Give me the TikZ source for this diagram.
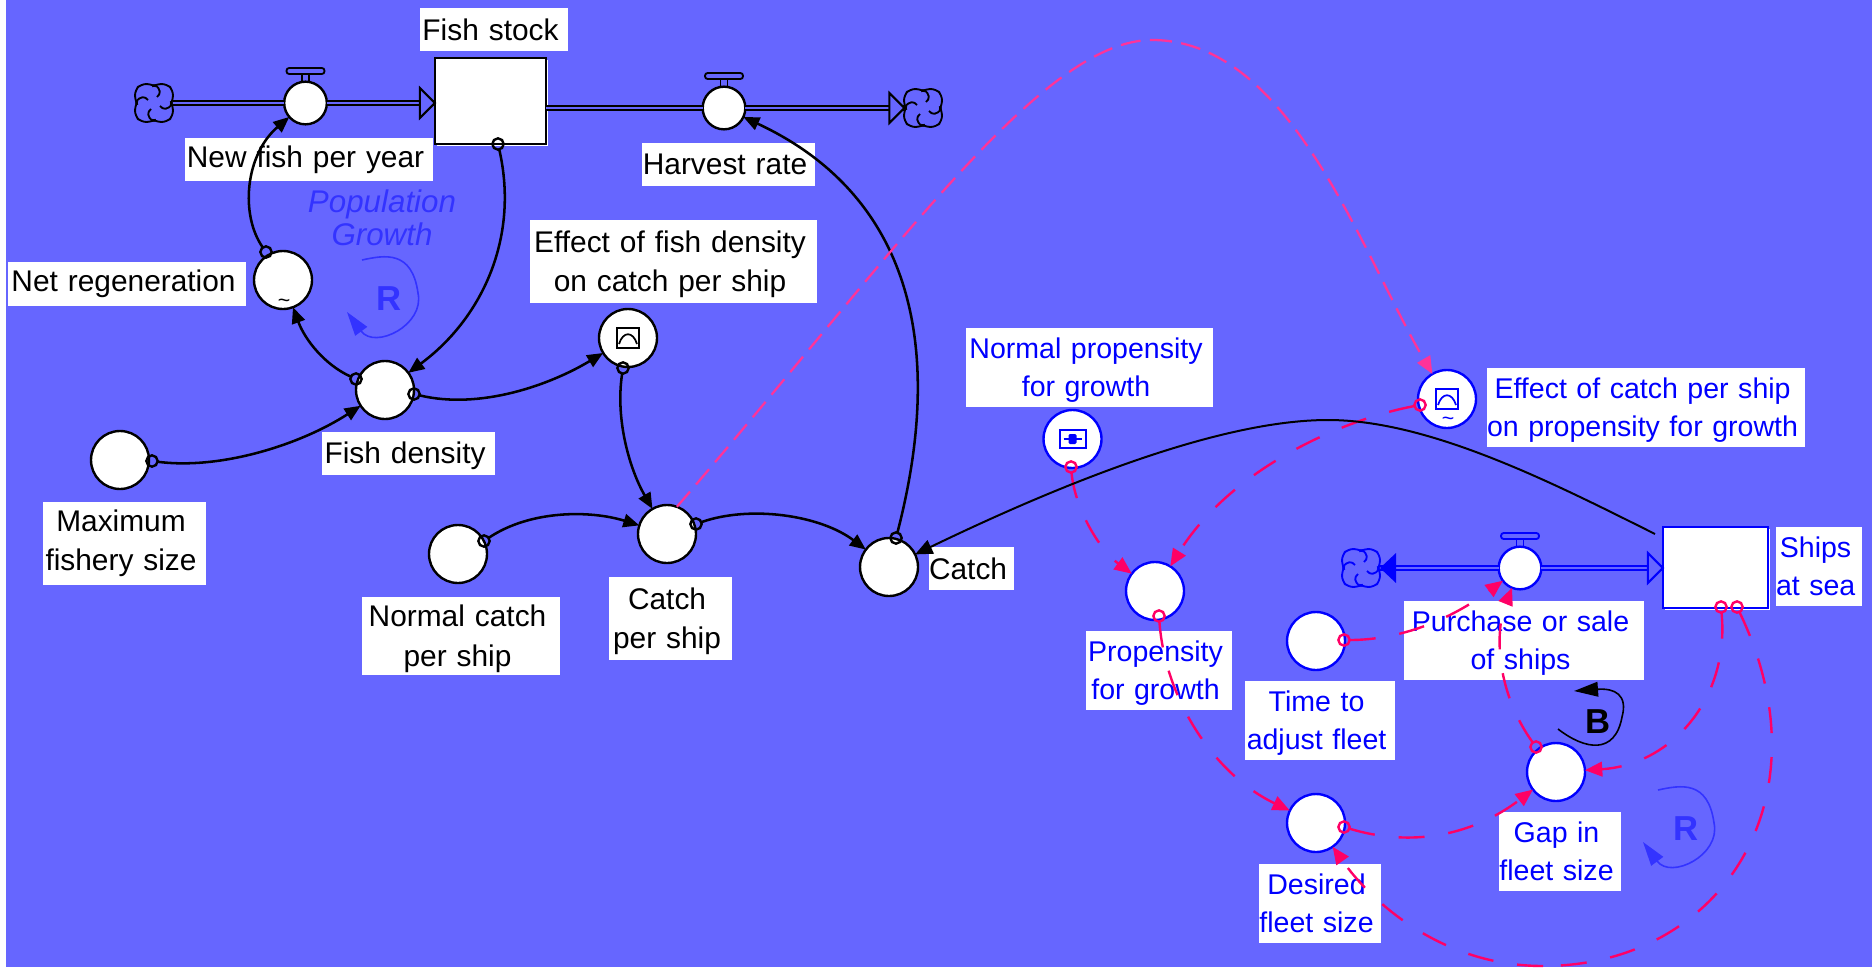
\documentclass[tikz,border=0pt]{standalone}
\usepackage{fontspec}
\setmainfont{Liberation Sans}
\usepackage{tikz}
\usetikzlibrary{arrows.meta}
\definecolor{pagebg}{HTML}{6666FF}
\definecolor{shipblue}{HTML}{0000FF}
\definecolor{loopblue}{HTML}{3333FF}
\definecolor{linkpink}{HTML}{FF0066}
\definecolor{longpink}{HTML}{FF3399}
% Pushes the text of a name box down a little
\newcommand{\topgap}{\rule{0pt}{\dimexpr.73em+4pt\relax}}
\tikzset{
% Node styles for the stock and flow parts
aux node/.style={circle,draw,fill=white,line width=1.8pt,inner sep=0,outer sep=0,minimum size=43.5pt},
valve node/.style={circle,draw,fill=white,line width=1.8pt,inner sep=0,outer sep=0,minimum size=32pt},
stock node/.style={rectangle,draw,fill=white,line width=1.8pt,inner sep=0,outer sep=0},
dot node/.style={circle,draw,line width=1.8pt,inner sep=0,outer sep=0,minimum size=8.5pt},
cloud spot/.style={circle,inner sep=0,outer sep=0,minimum size=28pt},
name box/.style 2 args={fill=white,inner sep=0,text width=#1*.75pt,minimum height=#2*.75pt,
  font=\fontsize{22.4}{29.5}\selectfont,
  execute at begin node={\parindent=0pt\leftskip=0pt plus 1fil\rightskip=5.2pt plus 1fil\parfillskip=0pt\let\\\par}},
ship box/.style 2 args={name box={#1}{#2},font=\fontsize{21.4}{28.5}\selectfont},
% Connector styles
pipe/.style={line width=1.8pt,double=pagebg,double distance=1.4pt},
link/.style={line width=1.9pt,-{Triangle[length=12pt,width=10pt]}},
dash link/.style={draw=#1,line width=1.8pt,dash pattern=on 19.5pt off 18pt,-{Triangle[length=13pt,width=11pt]}},
long link/.style={dash link=longpink,line width=1.7pt,dash pattern=on 15pt off 7pt},
loop line/.style={draw=#1,line width=1.2pt,-{Triangle[length=18pt,width=11pt]}},
loop name/.style={font=\fontsize{26}{26}\bfseries\selectfont},
% Little icons
cloud icon/.pic={
  \foreach \a in {0,90,180,270}{
    \draw[rotate=\a,line width=1.4pt,rounded corners=4pt] (1,-18) -- (3,-19) -- (13,-19) -- (19,-13) -- (19,-3) -- (18,-1);
    \draw[rotate=\a,line width=1.4pt] (1,-18) .. controls (7,-14) and (7,-9) .. (3,-6);
  }
},
valve top/.pic={
  \draw[line width=1.4pt,rounded corners=2pt] (-19,-35) rectangle (19,-29);
  \draw[line width=1.4pt] (-3.5,-29) -- (-3.5,-21) (3.5,-29) -- (3.5,-21);
},
flow tip/.pic={
  \draw[line width=1.5pt,fill=pagebg] (-15,-15) -- (0,0) -- (-15,15) -- cycle;
},
graph icon/.pic={
  \draw[line width=1.5pt] (-11,-10) rectangle (11,10);
  \draw[line width=1.3pt] (-9,6) .. controls (-5,-7) and (5,-7) .. (9,6);
},
switch icon/.pic={
  \draw[line width=1.5pt] (-13,-9) rectangle (13,9);
  \draw[line width=1.5pt] (-9,0) -- (9,0);
  \fill[rounded corners=1pt] (-4,-5) rectangle (4,5);
}
}

\begin{document}
\begin{tikzpicture}[x=.75pt,y=-.75pt]
  \useasboundingbox (0,0) rectangle (1872,967);
  \fill[white] (0,0) rectangle (6,967);
  \fill[pagebg] (6,0) rectangle (1872,967);
  % Name boxes of the fish part
  \node[name box={148}{43}] (fishStockName) at (494,29.5) {Fish stock};
  \node[name box={248}{43}] (newFishName) at (309,159.5) {New fish per year};
  \node[name box={173}{43}] (harvestName) at (728.5,164.5) {Harvest rate};
  \node[name box={238}{44}] (netRegenName) at (127,284) {Net regeneration};
  \node[name box={287}{83}] (effectDensityName) at (673.5,261.5) {\topgap Effect of fish density\\on catch per ship};
  \node[name box={173}{43}] (densityName) at (408.5,453.5) {\topgap Fish density};
  \node[name box={163}{83}] (maxFisheryName) at (124.5,543.5) {Maximum\\fishery size};
  \node[name box={198}{78}] (normalCatchName) at (461,636) {\topgap Normal catch\\per ship};
  \node[name box={123}{83}] (catchShipName) at (670.5,618.5) {\topgap Catch\\per ship};
  \node[name box={85}{43}] (catchName) at (971.5,568.5) {Catch};
  % Name boxes of the ship part
  \begin{scope}[color=shipblue]
    \node[ship box={247}{79}] (normalPropName) at (1089.5,367.5) {\topgap Normal propensity\\for growth};
    \node[ship box={318}{79}] (effectCatchName) at (1646,407.5) {\topgap Effect of catch per ship\\on propensity for growth};
    \node[ship box={86}{79}] (shipsName) at (1819,566.5) {Ships\\\mbox{at sea}};
    \node[ship box={240}{79}] (purchaseName) at (1524,640.5) {\topgap Purchase or sale\\of ships};
    \node[ship box={150}{79}] (timeName) at (1320,720.5) {\topgap Time to\\adjust fleet};
    \node[ship box={146}{79}] (propensityName) at (1159,670.5) {\topgap Propensity\\for growth};
    \node[ship box={122}{79}] (gapName) at (1560,851.5) {Gap in\\fleet size};
    \node[ship box={122}{79}] (desiredName) at (1320,903.5) {Desired\\fleet size};
  \end{scope}
  % Fish stock with its two flows
  \node[cloud spot] (cloudIn) at (154,103) {};
  \node[cloud spot] (cloudOut) at (923,108) {};
  \fill[white] (437,60) rectangle (548,146);
  \node[stock node,minimum width=83.5pt,minimum height=64.5pt] (fishStock) at (490.5,101) {};
  \node[valve node] (newFish) at (305.5,103) {};
  \node[valve node] (harvest) at (724,108) {};
  \draw[pipe] (cloudIn) -- (newFish);
  \draw[pipe] (newFish) -- (newFish -| fishStock.west);
  \draw[pipe] (harvest -| fishStock.east) -- (harvest);
  \draw[pipe] (harvest) -- (cloudOut.west);
  \pic at (cloudIn) {cloud icon};
  \pic at (cloudOut) {cloud icon};
  \pic at (newFish) {valve top};
  \pic at (harvest) {valve top};
  \pic at (newFish -| fishStock.west) {flow tip};
  \pic at (cloudOut.west) {flow tip};
  % Fish auxiliaries
  \node[aux node] (netRegen) at (283,280) {};
  \node[aux node] (density) at (385,390) {};
  \node[aux node] (maxFishery) at (120,460) {};
  \node[aux node] (effectDensity) at (628,338) {};
  \node[aux node] (normalCatch) at (458,554) {};
  \node[aux node] (catchShip) at (667,534) {};
  \node[aux node] (catch) at (889,567) {};
  \pic at (effectDensity) {graph icon};
  \node[font=\fontsize{16}{16}\selectfont] (netRegenTilde) at (284,303) {\textasciitilde};
  \node[dot node] (dotStock) at (498,144) {};
  \node[dot node] (dotNetRegen) at (266,252) {};
  \node[dot node] (dotDensityL) at (356,379) {};
  \node[dot node] (dotDensityR) at (414,394) {};
  \node[dot node] (dotMax) at (152,461) {};
  \node[dot node] (dotEffect) at (623,368) {};
  \node[dot node] (dotNormal) at (484,541) {};
  \node[dot node] (dotCatchShip) at (696,524) {};
  \node[dot node] (dotCatch) at (896,538) {};
  % Fish links
  \draw[link] (dotNetRegen) .. controls (240,215) and (245,155) .. (newFish);
  \draw[link] (dotStock) .. controls (520,240) and (480,320) .. (density);
  \draw[link] (dotDensityL) .. controls (325,365) and (305,340) .. (netRegen);
  \draw[link] (dotMax) .. controls (220,470) and (300,445) .. (density);
  \draw[link] (dotDensityR) .. controls (480,410) and (550,385) .. (effectDensity);
  \draw[link] (dotEffect) .. controls (615,420) and (630,470) .. (catchShip);
  \draw[link] (dotNormal) .. controls (530,510) and (590,510) .. (catchShip);
  \draw[link] (dotCatchShip) .. controls (750,505) and (820,515) .. (catch);
  \draw[link] (dotCatch) .. controls (950,330) and (900,190) .. (harvest);
  % Loop of the fish part
  \node[color=loopblue,font=\fontsize{23.5}{24.5}\itshape\selectfont,align=center] (popName) at (382,218) {Population\\Growth};
  \node[loop name,color=loopblue] (popR) at (389,299) {R};
  \coordinate (popStart) at (362,260);
  \coordinate (popTop) at (418,293);
  \coordinate (popEnd) at (347,312);
  \draw[loop line=loopblue,-] (popStart) .. controls (385,255) and (412,250) .. (popTop);
  \draw[loop line=loopblue] (popTop) .. controls (425,325) and (375,350) .. (popEnd);
  % Ship stock with its flow
  \begin{scope}[color=shipblue]
    \node[cloud spot] (cloudShip) at (1361,568) {};
    \fill[white] (1665,529) rectangle (1770,610);
    \node[stock node,minimum width=79pt,minimum height=61pt] (shipStock) at (1715.5,567.5) {};
    \node[valve node] (purchase) at (1520,568) {};
    \draw[pipe] (cloudShip.east) -- (purchase);
    \draw[pipe] (purchase) -- (purchase -| shipStock.west);
    \pic at (cloudShip) {cloud icon};
    \pic at (purchase) {valve top};
    \pic at (purchase -| shipStock.west) {flow tip};
    \fill (1380,568) -- (1396,553) -- (1396,583) -- cycle;
    \node[aux node] (normalProp) at (1072.5,439) {};
    \node[aux node] (effectCatch) at (1447,399) {};
    \node[aux node] (propensity) at (1155,591) {};
    \node[aux node] (timeFleet) at (1316,641) {};
    \node[aux node] (desired) at (1316,823) {};
    \node[aux node] (gap) at (1556,772) {};
    \pic at (normalProp) {switch icon};
    \pic at (effectCatch) {graph icon};
    \node[font=\fontsize{16}{16}\selectfont] (effectTilde) at (1448,421) {\textasciitilde};
  \end{scope}
  % Small link ends of the ship part
  \begin{scope}[color=linkpink]
    \node[dot node] (dotNormalProp) at (1071,467) {};
    \node[dot node] (dotEffectCatch) at (1420,405) {};
    \node[dot node] (dotPropensity) at (1159,616) {};
    \node[dot node] (dotDesired) at (1344,827) {};
    \node[dot node] (dotTime) at (1344,640) {};
    \node[dot node] (dotGap) at (1536,747) {};
    \node[dot node] (dotShipL) at (1721,607) {};
    \node[dot node] (dotShipR) at (1737,607) {};
  \end{scope}
  % Ship links
  \coordinate (longTop) at (1152,40);
  \draw[long link,-] (catchShip.70) .. controls (890,260) and (1040,40) .. (longTop);
  \draw[long link] (longTop) .. controls (1290,40) and (1360,250) .. (effectCatch);
  \draw[dash link=linkpink] (dotNormalProp) .. controls (1075,510) and (1100,550) .. (propensity);
  \draw[dash link=linkpink] (dotEffectCatch) .. controls (1340,420) and (1230,470) .. (propensity);
  \draw[dash link=linkpink] (dotPropensity) .. controls (1165,700) and (1215,775) .. (desired);
  \draw[dash link=linkpink] (dotDesired) .. controls (1420,850) and (1480,830) .. (gap);
  \draw[dash link=linkpink] (dotTime) .. controls (1400,640) and (1450,620) .. (purchase);
  \draw[dash link=linkpink] (dotGap) .. controls (1495,690) and (1495,630) .. (purchase);
  \draw[dash link=linkpink] (dotShipL) .. controls (1730,700) and (1670,765) .. (gap);
  \coordinate (bottomTurn) at (1543,966);
  \draw[dash link=linkpink,-] (dotShipR) .. controls (1830,800) and (1720,966) .. (bottomTurn);
  \draw[dash link=linkpink] (bottomTurn) .. controls (1440,966) and (1370,900) .. (desired);
  % Line from the ships to the catch
  \coordinate (shipCorner) at (1655,534);
  \coordinate (curveTop) at (1328,420);
  \draw[line width=1.5pt] (shipCorner) .. controls (1555,484) and (1430,420) .. (curveTop);
  \draw[line width=1.5pt,-{Triangle[length=13pt,width=11pt]}] (curveTop) .. controls (1220,420) and (1063,483) .. (catch);
  % Loops of the ship part
  \node[loop name] (loopB) at (1598,722) {B};
  \coordinate (balStart) at (1558,729);
  \coordinate (balSide) at (1622,717);
  \coordinate (balEnd) at (1574,691);
  \draw[loop line=black,-] (balStart) .. controls (1585,750) and (1615,755) .. (balSide);
  \draw[loop line=black] (balSide) .. controls (1628,695) and (1615,688) .. (balEnd);
  \node[loop name,color=loopblue] (shipR) at (1686,829) {R};
  \coordinate (shipStart) at (1658,790);
  \coordinate (shipTop) at (1714,823);
  \coordinate (shipEnd) at (1643,842);
  \draw[loop line=loopblue,-] (shipStart) .. controls (1681,785) and (1708,780) .. (shipTop);
  \draw[loop line=loopblue] (shipTop) .. controls (1721,855) and (1671,880) .. (shipEnd);
\end{tikzpicture}
\end{document}
